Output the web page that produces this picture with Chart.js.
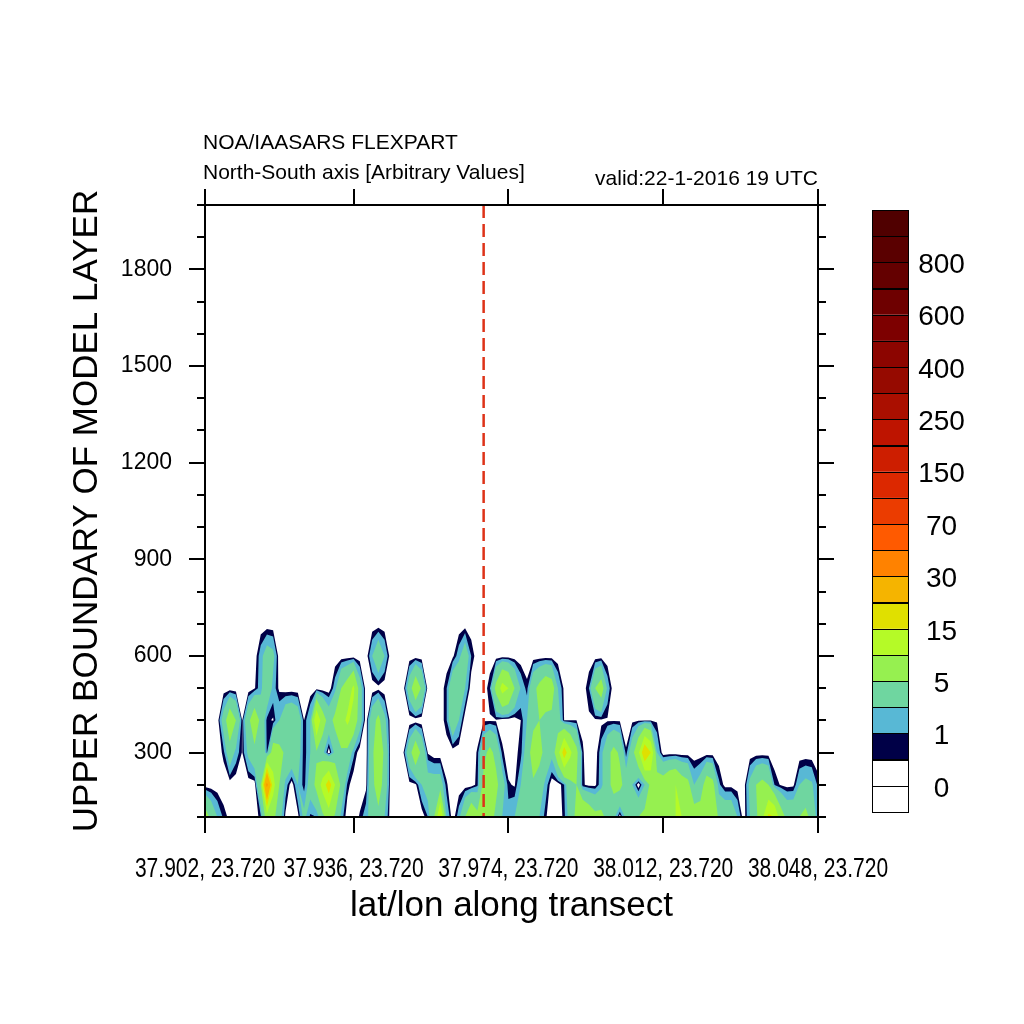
<!DOCTYPE html>
<html>
<head>
<meta charset="utf-8">
<script src="https://cdn.jsdelivr.net/npm/chart.js@4.4.1/dist/chart.umd.min.js"></script>
<style>
  html, body { margin: 0; padding: 0; background: #fff; }
  canvas { display: block; }
</style>
</head>
<body>
<canvas id="chart" width="1024" height="1024"></canvas>
<script>
// upper boundary of each model layer (m), one concentration row per layer
const layerTops = [100, 200, 300, 400, 500, 600, 700];

// concentration along the transect (100 points per layer)
const conc100 = [
  7, 4, 2, 0.8, 0.3, 0, 0, 0, 0, 0.8,
  7, 6, 3, 0.3, 0, 0.2, 2.5, 0.8, 1, 4,
  7, 4.5, 1.5, 0, 0, 0.6, 1.5, 3, 4, 2,
  0, 0, 0, 0, 0, 0, 1, 5, 16, 2,
  0, 1.5, 5, 9, 6, 10, 7, 4, 2, 1.5,
  2, 3, 4, 3.5, 2, 0.6, 0, 0, 0.7, 3,
  6, 10, 8, 6, 6, 4, 2.5, 0, 2.5, 4,
  5, 6, 7, 7, 10, 8, 10, 10, 7, 7,
  7, 10, 10, 4, 4, 4, 2, 0, 2, 4,
  9, 16, 15, 7, 4, 4, 5, 6, 4, 1
];
const conc200 = [
  0, 0, 0, 0, 0, 0, 0, 0, 0, 5,
  32, 12, 5, 1.5, 0, 2, 0.6, 3, 6, 12,
  18, 10, 4, 0.8, 0, 0, 0.3, 4, 7, 3.5,
  0, 0, 0, 0.2, 0.3, 2, 3, 3, 3, 0.6,
  0, 0, 0, 0, 0.8, 6, 8, 6, 3, 0.6,
  0.4, 2, 4, 4.5, 3.5, 1.5, 0, 0, 1, 4,
  5, 0.6, 0.3, 0.3, 1.5, 4, 6, 6, 3.5, 2,
  0, 2, 6, 7, 7, 9, 10, 7, 6, 2,
  3, 7, 6, 1.2, 0.2, 0.2, 0.1, 0, 2.5, 5,
  6, 5, 0.9, 0.4, 0.2, 0.3, 2, 2.5, 2.2, 0.8
];
const conc300 = [
  0, 0, 0, 0.7, 3.5, 1.5, 0.45, 2.4, 4, 4.5,
  0.9, 7, 6, 4.5, 4, 3, 0.5, 2, 4.5, 2.5,
  0, 2.5, 4.5, 4, 1.2, 0, 0, 4, 9, 4,
  0, 0, 0.3, 3.5, 8, 4, 0.4, 0, 0, 0,
  0, 0, 0, 0, 0.6, 4, 6, 4, 0.7, 0,
  0.3, 0.7, 3, 7, 6, 4, 2.5, 8, 18, 11,
  6, 0.6, 0, 0, 1.5, 4, 6, 4.5, 0.6, 3.5,
  9, 20, 15, 2, 0, 0, 0, 0, 0, 0,
  0, 0, 0, 0, 0, 0, 0, 0, 0, 0,
  0, 0, 0, 0, 0, 0, 0, 0, 0, 0
];
const conc400 = [
  0, 0, 0, 3, 8, 5, 0.45, 4, 8, 4,
  0.7, 0.4, 2, 4, 4.5, 3.5, 0.5, 2, 15, 7,
  3.5, 6, 8, 11, 8, 3, 0, 3.5, 6, 2.5,
  0, 0, 0, 0, 0, 0, 0, 0, 0, 0.9,
  4, 2, 0, 0, 0, 0.4, 0.4, 0.4, 0, 0,
  0, 0.5, 2, 4, 5, 4, 4, 3, 0.5, 0.5,
  0.5, 0.3, 0.3, 0.3, 0.3, 0.4, 0.4, 0.4, 0, 0.3,
  0.4, 0.45, 0.45, 0.4, 0, 0, 0, 0, 0, 0,
  0, 0, 0, 0, 0, 0, 0, 0, 0, 0,
  0, 0, 0, 0, 0, 0, 0, 0, 0, 0
];
const conc500 = [
  0, 0, 0, 0, 0, 0, 0, 0, 0.4, 1.5,
  4, 1.5, 0.3, 0, 0, 0, 0, 0, 0, 0,
  0, 1.5, 5, 7, 11, 3, 0, 0, 0.2, 0,
  0, 0, 0, 3.2, 8, 4.5, 0, 0, 0, 0.9,
  4, 4.5, 2, 0, 0, 0, 0.9, 6, 12, 10,
  5, 1.8, 0.7, 4, 6, 8, 7, 2, 0.3, 0,
  0, 0, 1, 5, 7, 1.6, 0, 0, 0, 0,
  0, 0, 0, 0, 0, 0, 0, 0, 0, 0,
  0, 0, 0, 0, 0, 0, 0, 0, 0, 0,
  0, 0, 0, 0, 0, 0, 0, 0, 0, 0
];
const conc600 = [
  0, 0, 0, 0, 0, 0, 0, 0, 0, 1.5,
  3, 2.5, 0, 0, 0, 0, 0, 0, 0, 0,
  0, 0, 0, 0, 0, 0, 0, 2, 4, 2,
  0, 0, 0, 0, 0, 0, 0, 0, 0, 0,
  0.3, 1.5, 3.5, 1, 0, 0, 0, 0, 0, 0,
  0, 0, 0, 0, 0, 0, 0, 0, 0, 0,
  0, 0, 0, 0, 0, 0, 0, 0, 0, 0,
  0, 0, 0, 0, 0, 0, 0, 0, 0, 0,
  0, 0, 0, 0, 0, 0, 0, 0, 0, 0,
  0, 0, 0, 0, 0, 0, 0, 0, 0, 0
];
const conc700 = [
  0, 0, 0, 0, 0, 0, 0, 0, 0, 0,
  0, 0, 0, 0, 0, 0, 0, 0, 0, 0,
  0, 0, 0, 0, 0, 0, 0, 0, 0, 0,
  0, 0, 0, 0, 0, 0, 0, 0, 0, 0,
  0, 0, 0, 0, 0, 0, 0, 0, 0, 0,
  0, 0, 0, 0, 0, 0, 0, 0, 0, 0,
  0, 0, 0, 0, 0, 0, 0, 0, 0, 0,
  0, 0, 0, 0, 0, 0, 0, 0, 0, 0,
  0, 0, 0, 0, 0, 0, 0, 0, 0, 0,
  0, 0, 0, 0, 0, 0, 0, 0, 0, 0
];

const xTickIndex = [0, 24, 49, 74, 99];
const xTickLabels = ["37.902, 23.720", "37.936, 23.720", "37.974, 23.720", "38.012, 23.720", "38.048, 23.720"];
const yTicks = [300, 600, 900, 1200, 1500, 1800];
const levels = [0, 0.5, 1, 2, 5, 10, 15, 20, 30, 50, 70, 100, 150, 200, 250, 300, 400, 500, 600, 700, 800, 900];
const markerIndex = 45;   // dashed vertical marker

// one colour per band: below levels[0], between levels, above the last one
const bandColors = [
  "#ffffff", "#ffffff", "#000047", "#58b8d5", "#6fd6a0", "#96f050", "#b5fa27",
  "#e0e000", "#f5b400", "#ff8200", "#ff5a00", "#eb3c00", "#dc2800", "#cd1e00",
  "#be1400", "#aa0f00", "#960a00", "#8c0500", "#7d0000", "#6e0000", "#640000",
  "#5a0000", "#500000"
];

const FONT = '"Liberation Sans", Arial, Helvetica, sans-serif';
Chart.defaults.font.family = FONT;
Chart.defaults.color = "#000";

// filled contours, cell by cell, one path per level
const contourPlugin = {
  id: "contour",
  beforeDatasetsDraw(chart) {
    const ctx = chart.ctx, xs = chart.scales.x, ys = chart.scales.y, a = chart.chartArea;
    const rows = [conc100, conc200, conc300, conc400, conc500, conc600, conc700];
    ctx.save();
    ctx.beginPath();
    ctx.rect(a.left, a.top, a.right - a.left, a.bottom - a.top);
    ctx.clip();
    for (let k = 1; k < levels.length; k++) {
      const t = levels[k];
      let any = false;
      ctx.beginPath();
      for (let r = 0; r < rows.length - 1; r++) {
        const y0 = ys.getPixelForValue(layerTops[r]);
        const y1 = ys.getPixelForValue(layerTops[r + 1]);
        for (let c = 0; c < rows[r].length - 1; c++) {
          const v = [rows[r][c], rows[r][c + 1], rows[r + 1][c + 1], rows[r + 1][c]];
          if (Math.max(v[0], v[1], v[2], v[3]) < t) continue;
          const x0 = xs.getPixelForValue(c), x1 = xs.getPixelForValue(c + 1);
          const px = [x0, x1, x1, x0], py = [y0, y0, y1, y1];
          const pts = [];
          for (let i = 0; i < 4; i++) {
            const j = (i + 1) % 4;
            if (v[i] >= t) pts.push([px[i], py[i]]);
            if ((v[i] >= t) !== (v[j] >= t)) {
              const f = (t - v[i]) / (v[j] - v[i]);
              pts.push([px[i] + f * (px[j] - px[i]), py[i] + f * (py[j] - py[i])]);
            }
          }
          if (pts.length < 3) continue;
          ctx.moveTo(pts[0][0], pts[0][1]);
          for (let i = 1; i < pts.length; i++) ctx.lineTo(pts[i][0], pts[i][1]);
          ctx.closePath();
          any = true;
        }
      }
      if (any) {
        ctx.fillStyle = bandColors[k + 1];
        ctx.fill("nonzero");
      }
    }
    ctx.restore();
  }
};

const decorPlugin = {
  id: "decor",
  afterDatasetsDraw(chart) {
    const ctx = chart.ctx, a = chart.chartArea;
    ctx.save();
    ctx.strokeStyle = "#000";
    ctx.lineWidth = 2;
    ctx.strokeRect(a.left, a.top, a.right - a.left, a.bottom - a.top);
    ctx.restore();
  },
  afterDraw(chart) {
    const ctx = chart.ctx, a = chart.chartArea, xs = chart.scales.x, ys = chart.scales.y;
    ctx.save();
    ctx.fillStyle = "#000";
    ctx.strokeStyle = "#000";

    // minor ticks every 100 m on left and right
    ctx.lineWidth = 2;
    ctx.beginPath();
    for (let v = ys.min; v <= ys.max; v += 100) {
      if (v % 300 === 0) continue;
      const y = Math.round(ys.getPixelForValue(v));
      ctx.moveTo(a.left - 8, y); ctx.lineTo(a.left, y);
      ctx.moveTo(a.right, y); ctx.lineTo(a.right + 8, y);
    }
    ctx.stroke();

    // bottom tick labels (narrow lettering)
    ctx.font = "28px " + FONT;
    ctx.textAlign = "center";
    ctx.textBaseline = "alphabetic";
    xTickIndex.forEach((v, i) => {
      ctx.save();
      ctx.translate(xs.getPixelForValue(v), 877);
      ctx.scale(0.75, 1);
      ctx.fillText(xTickLabels[i], 0, 0);
      ctx.restore();
    });

    // titles
    ctx.font = "21px " + FONT;
    ctx.textAlign = "left";
    ctx.fillText("NOA/IAASARS FLEXPART", 203, 149);
    ctx.fillText("North-South axis [Arbitrary Values]", 203, 179);
    ctx.textAlign = "right";
    ctx.fillText("valid:22-1-2016 19 UTC", a.right, 185);

    ctx.font = "35px " + FONT;
    ctx.textAlign = "center";
    ctx.fillText("lat/lon along transect", (a.left + a.right) / 2, 916);
    ctx.save();
    ctx.translate(97, (a.top + a.bottom) / 2);
    ctx.rotate(-Math.PI / 2);
    ctx.fillText("UPPER BOUNDARY OF MODEL LAYER", 0, 0);
    ctx.restore();

    // colour bar
    const cb = { left: 872, right: 908, top: 210, bottom: 812 };
    const h = (cb.bottom - cb.top) / bandColors.length;
    ctx.lineWidth = 1;
    for (let i = 0; i < bandColors.length; i++) {
      const y = cb.bottom - (i + 1) * h;
      ctx.fillStyle = bandColors[i];
      ctx.fillRect(cb.left, y, cb.right - cb.left, h);
      ctx.strokeRect(cb.left + 0.5, Math.round(y) + 0.5, cb.right - cb.left, Math.round(h));
    }
    ctx.fillStyle = "#000";
    ctx.font = "28px " + FONT;
    ctx.textAlign = "center";
    ctx.textBaseline = "middle";
    for (let j = 0; j < levels.length; j += 2) {
      ctx.fillText(String(levels[j]), 941.5, cb.bottom - (j + 1) * h + 3);
    }
    ctx.restore();
  }
};

function tickGrid() {
  return { drawOnChartArea: false, drawTicks: true, tickLength: 16, tickWidth: 2, lineWidth: 2, color: "#000", tickColor: "#000" };
}

new Chart(document.getElementById("chart"), {
  type: "scatter",
  data: {
    datasets: [{
      data: [{ x: markerIndex, y: 2000 }, { x: markerIndex, y: 100 }],
      showLine: true,
      borderColor: "#de3218",
      borderWidth: 2.5,
      borderDash: [13, 6],
      pointRadius: 0,
      fill: false
    }]
  },
  options: {
    responsive: false,
    animation: false,
    devicePixelRatio: 1,
    layout: { padding: 0 },
    plugins: { legend: { display: false }, tooltip: { enabled: false } },
    scales: {
      x: {
        type: "linear", position: "bottom", min: 0, max: 99,
        afterBuildTicks: s => { s.ticks = xTickIndex.map(v => ({ value: v })); },
        afterFit: s => { s.height = 207; },
        grid: tickGrid(),
        border: { display: true, color: "#000", width: 2 },
        ticks: { display: false }
      },
      xTop: {
        type: "linear", position: "top", min: 0, max: 99,
        afterBuildTicks: s => { s.ticks = xTickIndex.map(v => ({ value: v })); },
        afterFit: s => { s.height = 205; },
        grid: tickGrid(),
        border: { display: true, color: "#000", width: 2 },
        ticks: { display: false }
      },
      y: {
        type: "linear", position: "left", min: 100, max: 2000,
        afterBuildTicks: s => { s.ticks = yTicks.map(v => ({ value: v })); },
        afterFit: s => { s.width = 205; },
        grid: tickGrid(),
        border: { display: true, color: "#000", width: 2 },
        ticks: { font: { size: 23 }, color: "#000", padding: 17, callback: v => String(v) }
      },
      yRight: {
        type: "linear", position: "right", min: 100, max: 2000,
        afterBuildTicks: s => { s.ticks = yTicks.map(v => ({ value: v })); },
        afterFit: s => { s.width = 206; },
        grid: tickGrid(),
        border: { display: true, color: "#000", width: 2 },
        ticks: { display: false }
      }
    }
  },
  plugins: [contourPlugin, decorPlugin]
});
</script>
</body>
</html>
